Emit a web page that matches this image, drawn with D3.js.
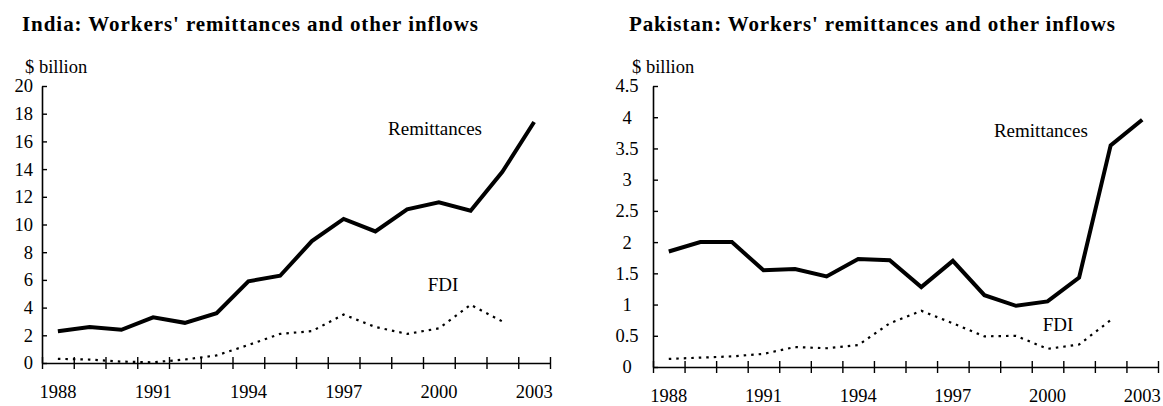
<!DOCTYPE html>
<html>
<head>
<meta charset="utf-8">
<script src="https://cdn.jsdelivr.net/npm/d3@7"></script>
<style>
  body { margin: 0; background: #fff; }
  svg { display: block; font-family: "Liberation Serif", "Times New Roman", serif; }
</style>
</head>
<body>
<div id="chart"></div>
<script>
const years = d3.range(1988, 2004);
const labelYears = [1988, 1991, 1994, 1997, 2000, 2003];

// India, $ billion
const indiaRemit = [2.3, 2.6, 2.4, 3.3, 2.9, 3.6, 5.9, 6.3, 8.8, 10.4, 9.5, 11.1, 11.6, 11.0, 13.8, 17.4];
const indiaFdi = [0.3, 0.25, 0.1, 0.05, 0.25, 0.55, 1.3, 2.1, 2.3, 3.5, 2.6, 2.1, 2.5, 4.2, 3.0];
const indiaTicks = [0, 2, 4, 6, 8, 10, 12, 14, 16, 18, 20];

// Pakistan, $ billion
const pakRemit = [1.85, 2.0, 2.0, 1.55, 1.57, 1.45, 1.73, 1.71, 1.28, 1.7, 1.15, 0.98, 1.05, 1.43, 3.55, 3.96];
const pakFdi = [0.13, 0.15, 0.17, 0.21, 0.32, 0.3, 0.35, 0.7, 0.9, 0.7, 0.49, 0.5, 0.29, 0.36, 0.75];
const pakTicks = [0, 0.5, 1, 1.5, 2, 2.5, 3, 3.5, 4, 4.5];

const W = 1163, H = 406;

const svg = d3.select("#chart")
  .append("svg")
  .attr("width", W)
  .attr("height", H);

function panel({ title, titleX, titleLen, left, right, top, bottom, yMax, yTicks, labelAnchor, labelX,
                 remit, fdi, remitLabel, fdiLabel }) {
  const g = svg.append("g");

  g.append("text")
    .attr("x", titleX)
    .attr("y", 31)
    .attr("textLength", titleLen)
    .attr("lengthAdjust", "spacing")
    .style("font-size", "21px")
    .style("font-weight", "bold")
    .text(title);

  g.append("text")
    .attr("x", titleX + 3)
    .attr("y", 73)
    .style("font-size", "18.5px")
    .text("$ billion");

  const xEdge = d3.scaleLinear().domain([0, years.length]).range([left, right]);
  const xMid = (i) => xEdge(i + 0.5);
  const y = d3.scaleLinear().domain([0, yMax]).range([bottom, top]);

  // y axis, ticks pointing inward
  const yAxis = g.append("g")
    .attr("transform", `translate(${left},0)`)
    .call(d3.axisLeft(y).tickValues(yTicks).tickSize(-5).tickSizeOuter(0)
      .tickFormat(d3.format("")));
  yAxis.select(".domain").attr("stroke-width", 1.6);
  yAxis.selectAll(".tick line").attr("stroke-width", 1.4);
  yAxis.selectAll("text")
    .attr("x", labelX)
    .attr("text-anchor", labelAnchor)
    .style("font-family", "Liberation Serif")
    .style("font-size", "18.5px")
    .attr("fill", "#000");

  // x axis: tick marks between years, crossing the line
  const xAxis = g.append("g")
    .attr("transform", `translate(0,${bottom})`)
    .call(d3.axisBottom(xEdge).tickValues(d3.range(0, years.length + 1)).tickSize(6).tickSizeOuter(0).tickFormat(""));
  xAxis.select(".domain").attr("stroke-width", 1.6);
  xAxis.selectAll(".tick line").attr("y1", -6).attr("stroke-width", 1.4);

  // year labels centred on each year
  const xBand = d3.scaleBand().domain(years).range([left, right]);
  const xLab = g.append("g")
    .attr("transform", `translate(0,${bottom})`)
    .call(d3.axisBottom(xBand).tickValues(labelYears).tickSize(0).tickPadding(22));
  xLab.select(".domain").remove();
  xLab.selectAll("text")
    .style("font-family", "Liberation Serif")
    .style("font-size", "18.5px")
    .attr("fill", "#000");

  const line = d3.line().x((d, i) => xMid(i)).y((d) => y(d));

  g.append("path")
    .datum(fdi)
    .attr("fill", "none")
    .attr("stroke", "#000")
    .attr("stroke-width", 2.2)
    .attr("stroke-dasharray", "2.5,5")
    .attr("d", line);

  g.append("path")
    .datum(remit)
    .attr("fill", "none")
    .attr("stroke", "#000")
    .attr("stroke-width", 4)
    .attr("stroke-linejoin", "miter")
    .attr("d", line);

  g.append("text")
    .attr("x", xEdge(remitLabel[0]))
    .attr("y", y(remitLabel[1]))
    .attr("text-anchor", "middle")
    .attr("dominant-baseline", "middle")
    .style("font-size", "19px")
    .text("Remittances");

  g.append("text")
    .attr("x", xEdge(fdiLabel[0]))
    .attr("y", y(fdiLabel[1]))
    .attr("text-anchor", "middle")
    .attr("dominant-baseline", "middle")
    .style("font-size", "19px")
    .text("FDI");
}

panel({
  title: "India: Workers' remittances and other inflows",
  titleX: 22, titleLen: 456,
  left: 42, right: 550, top: 86, bottom: 363,
  yMax: 20, yTicks: indiaTicks, labelAnchor: "end", labelX: -9,
  remit: indiaRemit, fdi: indiaFdi,
  remitLabel: [12.38, 16.75], fdiLabel: [12.63, 5.5]
});

panel({
  title: "Pakistan: Workers' remittances and other inflows",
  titleX: 629, titleLen: 486,
  left: 653, right: 1158, top: 86, bottom: 367,
  yMax: 4.5, yTicks: pakTicks, labelAnchor: "middle", labelX: -26,
  remit: pakRemit, fdi: pakFdi,
  remitLabel: [12.29, 3.75], fdiLabel: [12.83, 0.64]
});
</script>
</body>
</html>
